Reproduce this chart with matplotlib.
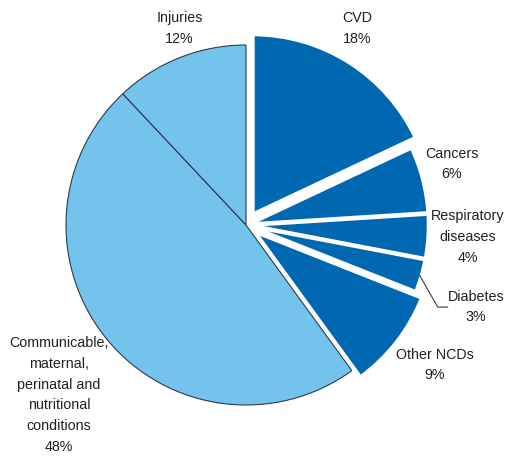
import numpy as np
import matplotlib.pyplot as plt

plt.rcParams['font.family'] = ['Liberation Sans Narrow', 'Liberation Sans', 'DejaVu Sans']

# share of deaths by cause
causes = ['CVD', 'Cancers', 'Respiratory\ndiseases', 'Diabetes', 'Other NCDs',
          'Communicable,\nmaternal,\nperinatal and\nnutritional\nconditions', 'Injuries']
shares = [18, 6, 4, 3, 9, 48, 12]
is_ncd = [True, True, True, True, True, False, False]

# label centres (axis units, pie radius = 1)
label_x = [0.62, 1.144, 1.233, 1.278, 1.05, -1.04, -0.37]
label_y = [1.092, 0.339, -0.067, -0.456, -0.778, -0.944, 1.092]

dark_blue = '#0067b1'
light_blue = '#74c3ec'
text_col = '#231f20'

fig = plt.figure(figsize=(5.11, 4.57), dpi=100)
ax = fig.add_axes([0, 0, 1, 1])

explode = [0.07, 0.015, 0.015, 0.015, 0.06, 0, 0]
colors = [dark_blue if n else light_blue for n in is_ncd]
wedges, _ = ax.pie(shares, explode=explode, colors=colors, startangle=90,
                   counterclock=False, radius=1.0, center=(0, 0))

for w, n in zip(wedges, is_ncd):
    if n:
        w.set_edgecolor('white')
        w.set_linewidth(2.8)
    else:
        w.set_edgecolor('#2a3a4f')
        w.set_linewidth(0.8)

for name, val, x, y in zip(causes, shares, label_x, label_y):
    ax.text(x, y, f'{name}\n{val}%', ha='center', va='center', fontsize=10.3,
            color=text_col, linespacing=1.62)

# leader line for the diabetes slice
w = wedges[3]
mid = np.deg2rad((w.theta1 + w.theta2) / 2)
cx, cy = w.center
sx, sy = cx + 0.99 * np.cos(mid), cy + 0.99 * np.sin(mid)
ax.plot([sx, 1.065, 1.12], [sy, -0.456, -0.456], color='#3a3a3a', lw=0.8)

ax.set_xlim(-246 / 180, (511 - 246) / 180)
ax.set_ylim((225 - 457) / 180, 225 / 180)
ax.set_aspect('equal')
ax.axis('off')

fig.savefig('out.png', dpi=100, facecolor='white')
